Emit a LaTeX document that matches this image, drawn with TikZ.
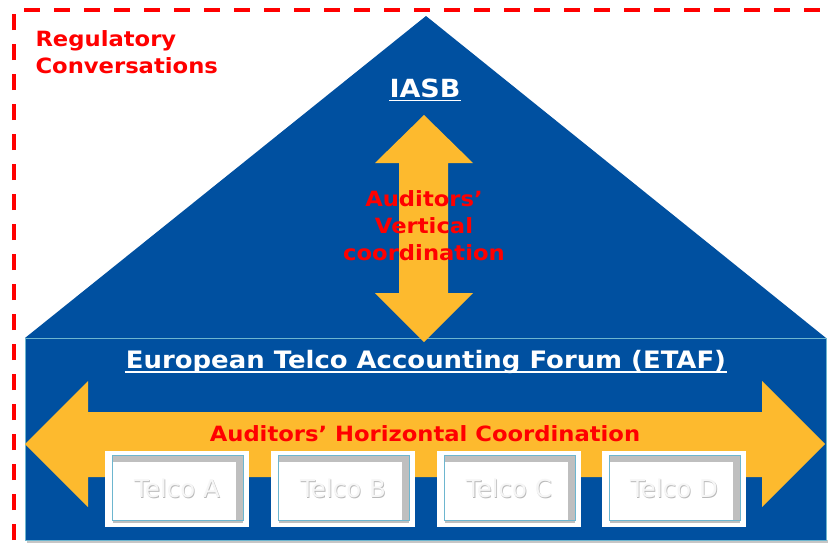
\documentclass[tikz,border=0pt]{standalone}
\usepackage{fontspec}
\setmainfont{DejaVu Sans}
\newfontfamily\wideface{DejaVu Sans}[FakeStretch=1.08]
\usepackage{tikz}
\usetikzlibrary{calc}
\definecolor{RoofBlue}{HTML}{0050A0}
\definecolor{ArrowGold}{HTML}{FDBA2E}
\definecolor{EdgeCyan}{HTML}{6DB6CF}

\tikzset{
  redlabel/.style={text=red,align=center,font=\wideface\bfseries\fontsize{21}{27}\selectfont},
  whitelabel/.style={text=white,inner sep=0,font=\wideface\bfseries\fontsize{#1}{#1}\selectfont},
  telcolabel/.style={font=\fontsize{24.5}{24.5}\selectfont}
}

\begin{document}
\begin{tikzpicture}[x=1pt,y=-1pt]
    \useasboundingbox (0,0) rectangle (831,549);
    \fill[white] (0,0) rectangle (831,549);

    % dashed frame
    \begin{scope}
     \clip (0,0) rectangle (831,549);
     \draw[red,line width=4,dash pattern=on 16 off 14] (14,570) -- (14,10) -- (870,10);
    \end{scope}
    \node[redlabel,align=left,anchor=base west] (regconv) at (32,73) {Regulatory\\Conversations};

    % roof and forum
    \fill[RoofBlue] (25,338) -- (426,16) -- (826,338) -- cycle;
    \fill[gray!45] (27,540) rectangle (828,543);
    \filldraw[fill=RoofBlue,draw=EdgeCyan,line width=0.8] (25,338) rectangle (826,540);

    % arrows
    \fill[ArrowGold] (25,444) -- (88,381) -- (88,412) -- (762,412) -- (762,381)
        -- (825,444) -- (762,507) -- (762,477) -- (88,477) -- (88,507) -- cycle;
    \fill[ArrowGold] (424,115) -- (473,163) -- (448,163) -- (448,293) -- (473,293)
        -- (424,342) -- (375,293) -- (399,293) -- (399,163) -- (375,163) -- cycle;

    \node[whitelabel=25,anchor=base] (iasb) at (425,97) {IASB};
    \draw[white,line width=1.8] ($(iasb.base west)+(0,3.5)$) -- ($(iasb.base east)+(0,3.5)$);
    \node[whitelabel=24,anchor=base] (etaf) at (426,368)
        {European Telco Accounting Forum (ETAF)};
    \draw[white,line width=1.8] ($(etaf.base west)+(-1,4)$) -- ($(etaf.base east)+(1,4)$);
    \node[redlabel,anchor=base] (vert) at (424,260) {Auditors’\\Vertical\\coordination};
    \node[redlabel,anchor=base] (horiz) at (425,441) {Auditors’ Horizontal Coordination};

    % telcos
    \foreach \x/\name in {105/A,271/B,437/C,602/D} {
     \fill[white] (\x,451) rectangle ++(144,76);
     \fill[gray!50] (\x+8,455) rectangle ++(130,68);
     \fill[white] (\x+8,462) rectangle ++(123,58);
     \draw[EdgeCyan,line width=0.8] (\x+7,455) rectangle ++(131,65);
     \node[telcolabel,text=gray!55,anchor=base] at (\x+72.8,498.3) {Telco \name};
     \node[telcolabel,text=white!93!gray,anchor=base] (telco\name) at (\x+72,497) {Telco \name};
    }
\end{tikzpicture}
\end{document}
